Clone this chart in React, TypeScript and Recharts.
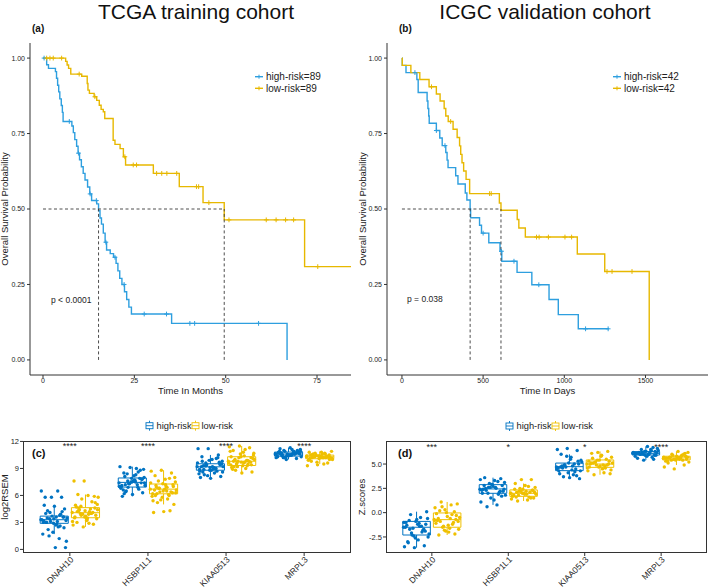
import React from "react"
import { ComposedChart, Line, Scatter, XAxis, YAxis, ReferenceLine } from "recharts"

const FONT = '"Liberation Sans", Arial, Helvetica, sans-serif'
const KM_BLUE = "#2E9FDF"
const KM_GOLD = "#E7B800"
const BOX_BLUE = "#0073C2"
const BOX_GOLD = "#EFC000"
const AXIS = "#333333"
const TEXT = "#222222"

// ---- TCGA survival (months) ----
const tcgaHighTime = [0, 1.0, 1.5, 3.4, 3.7, 4.0, 4.3, 4.6, 5.0, 5.3, 5.5, 7.9, 8.3, 8.7, 9.2, 9.6, 10.0, 10.5, 11.0, 11.5, 12.2, 12.8, 13.3, 14.7, 15.2, 15.6, 16.0, 16.5, 17.0, 17.4, 18.4, 19.3, 20.0, 20.5, 21.0, 21.6, 22.3, 22.9, 23.5, 24.2, 35.2, 66.8]
const tcgaHighSurv = [1, 0.978, 0.966, 0.955, 0.933, 0.91, 0.888, 0.865, 0.843, 0.82, 0.79, 0.775, 0.753, 0.73, 0.708, 0.685, 0.663, 0.64, 0.618, 0.596, 0.573, 0.55, 0.528, 0.517, 0.494, 0.47, 0.45, 0.42, 0.39, 0.364, 0.352, 0.34, 0.32, 0.295, 0.27, 0.25, 0.226, 0.2, 0.175, 0.152, 0.121, 0]
const tcgaHighCensTime = [0.3, 7.2, 9.7, 12.9, 14.6, 17.2, 19.7, 22.2, 27.7, 33.8, 40.2, 41.5, 59.0]
const tcgaHighCensSurv = [1, 0.79, 0.685, 0.55, 0.528, 0.39, 0.34, 0.25, 0.152, 0.152, 0.121, 0.121, 0.121]
const tcgaLowTime = [0, 6.2, 6.6, 7.0, 7.6, 10.6, 12.1, 12.3, 12.7, 14.0, 14.7, 15.4, 15.9, 16.5, 16.9, 19.2, 19.7, 21.1, 22.0, 22.6, 30.2, 37.3, 43.8, 49.6, 71.6, 84.3]
const tcgaLowSurv = [1, 0.989, 0.977, 0.966, 0.947, 0.94, 0.916, 0.894, 0.883, 0.872, 0.86, 0.844, 0.83, 0.822, 0.8, 0.728, 0.714, 0.7, 0.673, 0.646, 0.618, 0.574, 0.521, 0.464, 0.309, 0.309]
const tcgaLowCensTime = [1.0, 1.9, 2.8, 5.1, 9.9, 14.2, 22.4, 24.7, 25.6, 31.1, 32.5, 33.9, 36.6, 42.0, 42.6, 45.4, 50.9, 61.1, 63.8, 66.4, 68.6, 75.2]
const tcgaLowCensSurv = [1, 1, 1, 1, 0.947, 0.872, 0.673, 0.646, 0.646, 0.618, 0.618, 0.618, 0.618, 0.574, 0.574, 0.521, 0.464, 0.464, 0.464, 0.464, 0.464, 0.309]
const tcgaMedians = [15.2, 49.6]

// ---- ICGC survival (days) ----
const icgcHighTime = [0, 2, 25, 92, 100, 155, 160, 165, 168, 212, 233, 248, 270, 278, 284, 331, 345, 390, 400, 420, 423, 478, 490, 535, 604, 615, 709, 800, 906, 963, 1086, 1274]
const icgcHighSurv = [1, 0.976, 0.952, 0.929, 0.886, 0.858, 0.833, 0.808, 0.784, 0.76, 0.735, 0.71, 0.687, 0.662, 0.637, 0.61, 0.583, 0.553, 0.53, 0.5, 0.471, 0.446, 0.42, 0.388, 0.36, 0.327, 0.29, 0.249, 0.2, 0.15, 0.103, 0.103]
const icgcHighCensTime = [80, 212, 265, 500, 613, 690, 843, 1131, 1270]
const icgcHighCensSurv = [0.952, 0.76, 0.71, 0.42, 0.36, 0.327, 0.249, 0.103, 0.103]
const icgcLowTime = [0, 2, 55, 110, 167, 212, 235, 260, 270, 285, 315, 340, 355, 362, 370, 380, 395, 417, 600, 610, 710, 720, 760, 1080, 1249, 1523]
const icgcLowSurv = [1, 0.976, 0.952, 0.929, 0.905, 0.881, 0.858, 0.833, 0.808, 0.79, 0.764, 0.737, 0.709, 0.681, 0.653, 0.626, 0.598, 0.551, 0.52, 0.496, 0.465, 0.437, 0.407, 0.351, 0.293, 0]
const icgcLowCensTime = [182, 300, 540, 550, 829, 845, 902, 1004, 1045, 1263, 1294, 1417]
const icgcLowCensSurv = [0.905, 0.79, 0.551, 0.551, 0.407, 0.407, 0.407, 0.407, 0.407, 0.293, 0.293, 0.293]
const icgcMedians = [420, 610]

// ---- expression boxplots ----
const genes = ["DNAH10", "HSBP1L1", "KIAA0513", "MRPL3"]
const cSig = ["****", "****", "****", "****"]
const dSig = ["***", "*", "*", "****"]

// (c) log2RSEM, TCGA
const cHighPts = [
  [3.3, 3.1, 3.5, 3.6, 2.9, 3.0, 3.8, 3.4, 3.2, 2.7, 4.0, 4.2, 3.7, 3.3, 2.5, 2.2, 4.5, 4.8, 4.9, 3.9, 3.1, 3.5, 2.8, 3.0, 3.6, 1.9, 1.7, 1.2, 1.5, 0.2, 0.2, 5.8, 5.8, 5.8, 6.5, 6.5, 4.3, 2.4, 3.4, 3.2, 2.6, 4.1, 0.9, 3.6, 3.0],
  [7.4, 7.5, 7.2, 7.8, 7.9, 7.0, 6.9, 7.6, 8.0, 8.2, 8.5, 8.8, 9.1, 9.2, 9.0, 6.5, 6.3, 6.1, 5.9, 6.7, 7.3, 7.1, 7.7, 8.1, 7.4, 7.5, 6.8, 7.2, 8.4, 8.9, 7.6, 6.6, 7.9, 7.3, 7.0, 8.3, 6.4, 7.8, 7.5, 7.1, 8.6, 6.9, 7.4, 7.7, 6.2],
  [9.2, 9.1, 9.3, 9.5, 8.8, 8.9, 9.0, 9.6, 9.8, 10.0, 10.3, 10.5, 11.2, 11.2, 8.5, 8.3, 8.1, 7.9, 8.0, 8.7, 9.4, 9.2, 9.1, 8.6, 9.7, 9.9, 8.4, 9.0, 9.3, 9.5, 8.8, 9.2, 10.2, 8.2, 9.6, 9.0, 8.9, 9.4, 9.1, 8.7, 10.1, 9.3, 8.6, 9.2, 9.8],
  [10.6, 10.5, 10.7, 10.8, 10.4, 10.3, 10.9, 11.0, 11.1, 11.3, 11.2, 10.1, 10.0, 10.2, 10.6, 10.5, 10.7, 10.4, 10.8, 10.6, 10.9, 10.3, 10.5, 10.7, 11.0, 10.6, 10.4, 10.8, 10.2, 10.6, 10.5, 10.9, 10.7, 10.3, 10.6, 11.1, 10.4, 10.8, 10.5, 10.7, 10.6, 10.2, 10.9, 10.5, 10.6],
]
const cLowPts = [
  [4.1, 3.9, 4.3, 4.6, 3.6, 3.5, 4.0, 4.8, 5.0, 3.3, 3.0, 2.8, 2.5, 2.7, 4.2, 4.4, 3.8, 3.7, 4.9, 5.3, 5.6, 5.8, 6.0, 6.1, 5.9, 7.6, 7.6, 4.5, 4.0, 3.4, 3.2, 4.7, 4.1, 3.9, 3.1, 2.9, 4.6, 5.2, 4.3, 3.6, 4.0, 3.8, 4.4, 3.5, 4.2],
  [6.7, 6.5, 6.9, 7.2, 7.3, 6.2, 6.0, 6.8, 7.5, 7.8, 8.2, 8.5, 8.8, 8.7, 5.6, 5.2, 5.0, 4.2, 4.1, 4.3, 6.4, 6.6, 7.0, 7.1, 6.3, 5.8, 5.9, 6.1, 7.6, 8.0, 6.7, 6.6, 6.4, 5.5, 7.4, 6.9, 6.2, 7.0, 6.5, 5.4, 7.9, 6.8, 6.3, 7.2, 6.0],
  [9.8, 9.7, 9.9, 10.2, 10.3, 9.4, 9.3, 9.6, 10.5, 10.8, 11.0, 11.3, 11.5, 11.4, 9.0, 8.8, 8.6, 8.5, 9.1, 9.5, 9.8, 10.0, 10.4, 9.2, 9.7, 10.6, 10.9, 9.9, 9.5, 10.1, 9.3, 8.9, 9.8, 10.2, 9.6, 11.1, 10.0, 9.4, 9.7, 10.3, 9.9, 9.2, 10.7, 9.6, 9.8],
  [10.3, 10.2, 10.4, 10.5, 10.1, 10.0, 10.6, 10.7, 10.9, 10.8, 9.8, 9.6, 9.4, 9.3, 9.5, 10.3, 10.2, 10.4, 10.1, 10.3, 10.5, 10.0, 10.6, 10.2, 10.3, 10.4, 9.9, 10.7, 10.3, 10.1, 10.2, 10.5, 10.3, 9.7, 10.4, 10.2, 10.6, 10.0, 10.3, 10.8, 10.2, 10.4, 10.1, 10.3, 10.5],
]
const cHighQ1 = [2.9, 6.93, 8.8, 10.37]
const cHighMed = [3.3, 7.45, 9.18, 10.6]
const cHighQ3 = [3.7, 7.94, 9.52, 10.82]
const cHighLo = [1.7, 5.9, 7.9, 10.0]
const cHighHi = [4.9, 9.2, 10.5, 11.3]
const cLowQ1 = [3.52, 6.18, 9.33, 10.08]
const cLowMed = [4.08, 6.7, 9.8, 10.3]
const cLowQ3 = [4.64, 7.27, 10.3, 10.48]
const cLowLo = [2.5, 5.0, 8.5, 9.5]
const cLowHi = [6.1, 8.8, 11.5, 10.9]

// (d) Z scores, ICGC
const dHighPts = [
  [-1.5, -1.4, -1.7, -1.2, -0.9, -1.0, -2.0, -2.3, -2.5, -2.8, -3.1, -3.4, -3.6, -3.5, -0.5, -0.2, 0.1, -0.7, -1.3, -1.8, -1.6, -2.2, -1.1, -0.8, -1.9, -2.6, -1.5, -1.4, -2.1, -0.6, -1.2, -3.0, -1.7, -2.4, -1.0],
  [2.4, 2.5, 2.3, 2.8, 2.9, 2.0, 1.9, 2.6, 3.1, 3.3, 3.6, 3.5, 1.5, 1.1, 0.8, 0.6, 2.2, 2.7, 2.4, 2.1, 3.0, 1.8, 2.6, 2.5, 1.7, 2.9, 2.3, 3.2, 2.0, 2.4, 1.3, 2.8, 2.2, 2.6, 3.4],
  [4.7, 4.8, 4.6, 5.0, 5.1, 4.3, 4.2, 4.9, 5.4, 5.7, 6.0, 6.4, 6.6, 6.5, 3.9, 3.7, 3.5, 3.6, 4.0, 4.5, 4.7, 5.2, 4.4, 4.8, 5.3, 4.1, 4.6, 5.0, 4.9, 4.3, 5.5, 4.7, 3.8, 5.8, 4.5],
  [6.1, 6.0, 6.2, 6.3, 5.9, 5.8, 6.4, 6.5, 6.6, 6.8, 5.6, 5.5, 5.4, 6.1, 6.2, 6.0, 5.9, 6.3, 6.1, 5.7, 6.2, 6.4, 6.0, 6.1, 5.9, 6.3, 6.1, 6.5, 6.0, 6.2, 5.8, 6.1, 6.7, 6.0, 6.2],
]
const dLowPts = [
  [-0.7, -0.6, -0.9, -0.3, 0.0, -0.1, -1.2, -1.5, -1.7, -2.0, -2.3, -2.2, 0.3, 0.5, 0.8, 1.1, 0.9, -0.4, -0.8, -1.0, -1.4, -0.5, -1.6, 0.2, -0.7, -1.9, -1.1, -0.2, 0.6, -0.9, -1.3, -0.6, 0.1, -1.8, -0.8],
  [2.0, 1.9, 2.1, 2.3, 2.4, 1.7, 1.6, 2.2, 2.6, 2.8, 3.0, 3.4, 3.4, 1.4, 1.3, 1.2, 1.5, 2.0, 1.8, 2.1, 2.5, 1.9, 2.2, 1.6, 2.3, 2.0, 1.7, 2.7, 1.8, 2.1, 1.9, 2.4, 1.5, 2.2, 2.0],
  [5.0, 4.9, 5.1, 5.3, 5.4, 4.7, 4.6, 5.2, 5.7, 5.9, 6.1, 6.3, 6.2, 4.3, 4.1, 3.9, 4.0, 4.8, 5.0, 5.5, 4.9, 5.1, 4.5, 5.6, 5.0, 4.7, 5.3, 4.8, 5.2, 4.4, 5.8, 5.1, 4.9, 5.4, 4.6],
  [5.6, 5.5, 5.7, 5.8, 5.4, 5.3, 5.9, 6.0, 6.2, 6.3, 5.1, 4.9, 4.5, 4.7, 5.6, 5.7, 5.5, 5.8, 5.6, 5.4, 5.9, 5.2, 5.7, 5.6, 6.1, 5.5, 5.6, 5.8, 5.4, 5.7, 5.6, 5.3, 6.0, 5.5, 5.7],
]
const dHighQ1 = [-2.3, 1.99, 4.32, 5.93]
const dHighMed = [-1.5, 2.44, 4.73, 6.1]
const dHighQ3 = [-0.9, 2.88, 5.1, 6.28]
const dHighLo = [-3.6, 0.8, 3.5, 5.4]
const dHighHi = [0.1, 3.6, 6.0, 6.8]
const dLowQ1 = [-1.5, 1.68, 4.66, 5.42]
const dLowMed = [-0.72, 1.99, 5.0, 5.63]
const dLowQ3 = [-0.03, 2.34, 5.42, 5.8]
const dLowLo = [-2.3, 1.2, 3.9, 4.9]
const dLowHi = [1.1, 3.0, 6.3, 6.3]

type Stats = { q1: number[]; med: number[]; q3: number[]; lo: number[]; hi: number[] }

const zipKM = (t: number[], s: number[]) => t.map((v, i) => ({ t: v, s: s[i] }))

const plus = (color: string) => (p: any) => {
  const { cx, cy } = p
  if (cx == null || cy == null) return <g />
  return (
    <path
      d={`M${cx - 2.4},${cy}H${cx + 2.4}M${cx},${cy - 2.4}V${cy + 2.4}`}
      stroke={color}
      strokeWidth={1}
    />
  )
}

const tickStyle = { fontSize: 7, fill: TEXT }

function KMPanel(props: {
  left: number
  width: number
  yAxisWidth: number
  right: number
  domain: number[]
  ticks: number[]
  high: { t: number; s: number }[]
  low: { t: number; s: number }[]
  highCens: { t: number; s: number }[]
  lowCens: { t: number; s: number }[]
  medians: number[]
}) {
  const { left, width, yAxisWidth, right, domain, ticks, high, low, highCens, lowCens, medians } = props
  const maxMed = Math.max(...medians)
  const dash = { stroke: "#3a3a3a", strokeDasharray: "3 2.5", strokeWidth: 0.9 }
  return (
    <div style={{ position: "absolute", left, top: 0 }}>
      <ComposedChart width={width} height={400} margin={{ top: 43, right, bottom: 0, left: 0 }}>
        <XAxis
          type="number"
          dataKey="t"
          domain={domain}
          ticks={ticks}
          allowDataOverflow
          height={25}
          tickSize={3}
          tickMargin={0}
          tick={tickStyle}
          axisLine={{ stroke: AXIS }}
          tickLine={{ stroke: AXIS }}
        />
        <YAxis
          type="number"
          domain={[-0.05, 1.05]}
          ticks={[0, 0.25, 0.5, 0.75, 1]}
          allowDataOverflow
          width={yAxisWidth}
          tickSize={3}
          tickMargin={2}
          tick={tickStyle}
          tickFormatter={(v: number) => v.toFixed(2)}
          axisLine={{ stroke: AXIS }}
          tickLine={{ stroke: AXIS }}
        />
        <Line data={high} dataKey="s" type="stepAfter" stroke={KM_BLUE} strokeWidth={1.4} dot={false} isAnimationActive={false} />
        <Line data={low} dataKey="s" type="stepAfter" stroke={KM_GOLD} strokeWidth={1.4} dot={false} isAnimationActive={false} />
        <Scatter data={highCens} dataKey="s" shape={plus(KM_BLUE)} isAnimationActive={false} />
        <Scatter data={lowCens} dataKey="s" shape={plus(KM_GOLD)} isAnimationActive={false} />
        <ReferenceLine segment={[{ x: 0, y: 0.5 }, { x: maxMed, y: 0.5 }]} {...dash} />
        {medians.map((m) => (
          <ReferenceLine key={m} segment={[{ x: m, y: 0 }, { x: m, y: 0.5 }]} {...dash} />
        ))}
      </ComposedChart>
    </div>
  )
}

const DODGE = 0.2
const HALF = 0.18
const jitter = (j: number) => (((j * 0.618034) % 1) - 0.5) * 0.34

function boxSegments(c: number, q1: number, med: number, q3: number, lo: number, hi: number) {
  const l = c - HALF
  const r = c + HALF
  return [
    { x: l, y: q1 }, { x: r, y: q1 }, { x: r, y: q3 }, { x: l, y: q3 }, { x: l, y: q1 }, { x: l, y: null },
    { x: l, y: med }, { x: r, y: med }, { x: r, y: null },
    { x: c, y: q3 }, { x: c, y: hi }, { x: c, y: null },
    { x: c, y: q1 }, { x: c, y: lo }, { x: c, y: null },
  ]
}

function BoxPanel(props: {
  left: number
  width: number
  yAxisWidth: number
  right: number
  yDomain: number[]
  yTicks: number[]
  fmt: (v: number) => string
  high: number[][]
  low: number[][]
  hs: Stats
  ls: Stats
  sig: string[]
  starY: number
}) {
  const { left, width, yAxisWidth, right, yDomain, yTicks, fmt, high, low, hs, ls, sig, starY } = props
  const pts = (groups: number[][], off: number) =>
    groups.flatMap((vals, i) => vals.map((v, j) => ({ x: i + 1 + off + jitter(j), y: v })))
  const boxes = (s: Stats, off: number) =>
    genes.flatMap((_, i) => boxSegments(i + 1 + off, s.q1[i], s.med[i], s.q3[i], s.lo[i], s.hi[i]))
  const stars = sig.map((s, i) => ({ x: i + 1, y: starY, label: s }))
  const dot = (color: string) => (p: any) =>
    p.cx == null ? <g /> : <circle cx={p.cx} cy={p.cy} r={1.7} fill={color} />
  return (
    <div style={{ position: "absolute", left, top: 430 }}>
      <ComposedChart width={width} height={158} margin={{ top: 11, right, bottom: 0, left: 0 }}>
        <XAxis
          type="number"
          dataKey="x"
          domain={[0.4, 4.6]}
          ticks={[1, 2, 3, 4]}
          allowDataOverflow
          height={35}
          tickSize={3}
          tickMargin={0}
          angle={-45}
          textAnchor="end"
          tick={{ fontSize: 8.5, fill: TEXT }}
          tickFormatter={(v: number) => genes[v - 1]}
          axisLine={false}
          tickLine={{ stroke: AXIS }}
        />
        <YAxis
          type="number"
          domain={yDomain}
          ticks={yTicks}
          allowDataOverflow
          width={yAxisWidth}
          tickSize={3}
          tickMargin={1}
          tick={{ fontSize: 7.5, fill: TEXT }}
          tickFormatter={fmt}
          axisLine={false}
          tickLine={{ stroke: AXIS }}
        />
        <Scatter data={pts(high, -DODGE)} dataKey="y" shape={dot(BOX_BLUE)} isAnimationActive={false} />
        <Scatter data={pts(low, DODGE)} dataKey="y" shape={dot(BOX_GOLD)} isAnimationActive={false} />
        <Line data={boxes(hs, -DODGE)} dataKey="y" type="linear" stroke="#ffffff" strokeWidth={2.6} dot={false} isAnimationActive={false} />
        <Line data={boxes(ls, DODGE)} dataKey="y" type="linear" stroke="#ffffff" strokeWidth={2.6} dot={false} isAnimationActive={false} />
        <Line data={boxes(hs, -DODGE)} dataKey="y" type="linear" stroke={BOX_BLUE} strokeWidth={1} dot={false} isAnimationActive={false} />
        <Line data={boxes(ls, DODGE)} dataKey="y" type="linear" stroke={BOX_GOLD} strokeWidth={1} dot={false} isAnimationActive={false} />
        <Scatter
          data={stars}
          dataKey="y"
          isAnimationActive={false}
          shape={(p: any) =>
            p.cx == null ? <g /> : (
              <text x={p.cx} y={p.cy + 4} textAnchor="middle" fontSize={9} fill={TEXT}>
                {p.payload.label}
              </text>
            )
          }
        />
      </ComposedChart>
    </div>
  )
}

function KMLegend({ x, y, labels }: { x: number; y: number; labels: string[] }) {
  const colors = [KM_BLUE, KM_GOLD]
  return (
    <g>
      {labels.map((l, i) => {
        const cy = y + i * 11.6
        return (
          <g key={l}>
            <line x1={x} x2={x + 8} y1={cy} y2={cy} stroke={colors[i]} strokeWidth={1.4} />
            <line x1={x + 4} x2={x + 4} y1={cy - 2} y2={cy + 2} stroke={colors[i]} strokeWidth={1} />
            <text x={x + 11} y={cy + 3.5} fontSize={10} fill={TEXT}>{l}</text>
          </g>
        )
      })}
    </g>
  )
}

function BoxGlyph({ x, y, color }: { x: number; y: number; color: string }) {
  return (
    <g stroke={color} strokeWidth={0.9} fill="none">
      <rect x={x + 0.5} y={y - 3} width={7} height={6} />
      <line x1={x + 0.5} x2={x + 7.5} y1={y} y2={y} />
      <line x1={x + 4} x2={x + 4} y1={y - 5} y2={y - 3} />
      <line x1={x + 4} x2={x + 4} y1={y + 3} y2={y + 5} />
    </g>
  )
}

function BoxLegend({ x, y }: { x: number; y: number }) {
  return (
    <g>
      <BoxGlyph x={x} y={y} color={BOX_BLUE} />
      <text x={x + 11} y={y + 3.4} fontSize={9.3} fill={TEXT}>high-risk</text>
      <BoxGlyph x={x + 46} y={y} color={BOX_GOLD} />
      <text x={x + 56} y={y + 3.4} fontSize={9.3} fill={TEXT}>low-risk</text>
    </g>
  )
}

export default function App() {
  const cHigh: Stats = { q1: cHighQ1, med: cHighMed, q3: cHighQ3, lo: cHighLo, hi: cHighHi }
  const cLow: Stats = { q1: cLowQ1, med: cLowMed, q3: cLowQ3, lo: cLowLo, hi: cLowHi }
  const dHigh: Stats = { q1: dHighQ1, med: dHighMed, q3: dHighQ3, lo: dHighLo, hi: dHighHi }
  const dLow: Stats = { q1: dLowQ1, med: dLowMed, q3: dLowQ3, lo: dLowLo, hi: dLowHi }
  return (
    <div
      style={{
        position: "absolute",
        left: 0,
        top: 0,
        width: 709,
        height: 588,
        overflow: "hidden",
        background: "#fff",
        fontFamily: FONT,
      }}
    >
      <KMPanel
        left={0}
        width={360}
        yAxisWidth={30}
        right={9}
        domain={[-3.56, 84.3]}
        ticks={[0, 25, 50, 75]}
        high={zipKM(tcgaHighTime, tcgaHighSurv)}
        low={zipKM(tcgaLowTime, tcgaLowSurv)}
        highCens={zipKM(tcgaHighCensTime, tcgaHighCensSurv)}
        lowCens={zipKM(tcgaLowCensTime, tcgaLowCensSurv)}
        medians={tcgaMedians}
      />
      <KMPanel
        left={360}
        width={349}
        yAxisWidth={27}
        right={1}
        domain={[-92, 1885]}
        ticks={[0, 500, 1000, 1500]}
        high={zipKM(icgcHighTime, icgcHighSurv)}
        low={zipKM(icgcLowTime, icgcLowSurv)}
        highCens={zipKM(icgcHighCensTime, icgcHighCensSurv)}
        lowCens={zipKM(icgcLowCensTime, icgcLowCensSurv)}
        medians={icgcMedians}
      />
      <BoxPanel
        left={0}
        width={360}
        yAxisWidth={23}
        right={9}
        yDomain={[-0.4, 12.05]}
        yTicks={[0, 3, 6, 9, 12]}
        fmt={(v) => String(v)}
        high={cHighPts}
        low={cLowPts}
        hs={cHigh}
        ls={cLow}
        sig={cSig}
        starY={11.66}
      />
      <BoxPanel
        left={355}
        width={354}
        yAxisWidth={31}
        right={2}
        yDomain={[-4.15, 7.37]}
        yTicks={[-2.5, 0, 2.5, 5]}
        fmt={(v) => v.toFixed(1)}
        high={dHighPts}
        low={dLowPts}
        hs={dHigh}
        ls={dLow}
        sig={dSig}
        starY={6.87}
      />
      <svg width={709} height={588} style={{ position: "absolute", left: 0, top: 0, pointerEvents: "none" }}>
        <text x={196} y={19} textAnchor="middle" fontSize={21} fill="#111">TCGA training cohort</text>
        <text x={545} y={19} textAnchor="middle" fontSize={21} fill="#111">ICGC validation cohort</text>
        <text x={32} y={32} fontSize={10} fontWeight="bold" fill="#111">(a)</text>
        <text x={399} y={32} fontSize={10} fontWeight="bold" fill="#111">(b)</text>
        <text x={32} y={457} fontSize={11} fontWeight="bold" fill="#111">(c)</text>
        <text x={398} y={457} fontSize={11} fontWeight="bold" fill="#111">(d)</text>
        <text x={190.5} y={394} textAnchor="middle" fontSize={9.5} fill={TEXT}>Time In Months</text>
        <text x={547.5} y={394} textAnchor="middle" fontSize={9.5} fill={TEXT}>Time In Days</text>
        <text transform="translate(8,209) rotate(-90)" textAnchor="middle" fontSize={9.5} fill={TEXT}>Overall Survival Probability</text>
        <text transform="translate(366,209) rotate(-90)" textAnchor="middle" fontSize={9.5} fill={TEXT}>Overall Survival Probability</text>
        <text transform="translate(8,497) rotate(-90)" textAnchor="middle" fontSize={9.5} fill={TEXT}>log2RSEM</text>
        <text transform="translate(365,497) rotate(-90)" textAnchor="middle" fontSize={9.5} fill={TEXT}>Z.scores</text>
        <text x={51} y={303} fontSize={8.5} fill={TEXT}>p &lt; 0.0001</text>
        <text x={407} y={302} fontSize={8.5} fill={TEXT}>p = 0.038</text>
        <KMLegend x={255} y={76.7} labels={["high-risk=89", "low-risk=89"]} />
        <KMLegend x={613} y={76.7} labels={["high-risk=42", "low-risk=42"]} />
        <BoxLegend x={145.5} y={425.7} />
        <BoxLegend x={505.5} y={426} />
        <rect x={23.5} y={441.5} width={327} height={111} fill="none" stroke={AXIS} strokeWidth={1} />
        <rect x={386.5} y={441.5} width={320} height={111} fill="none" stroke={AXIS} strokeWidth={1} />
      </svg>
    </div>
  )
}
